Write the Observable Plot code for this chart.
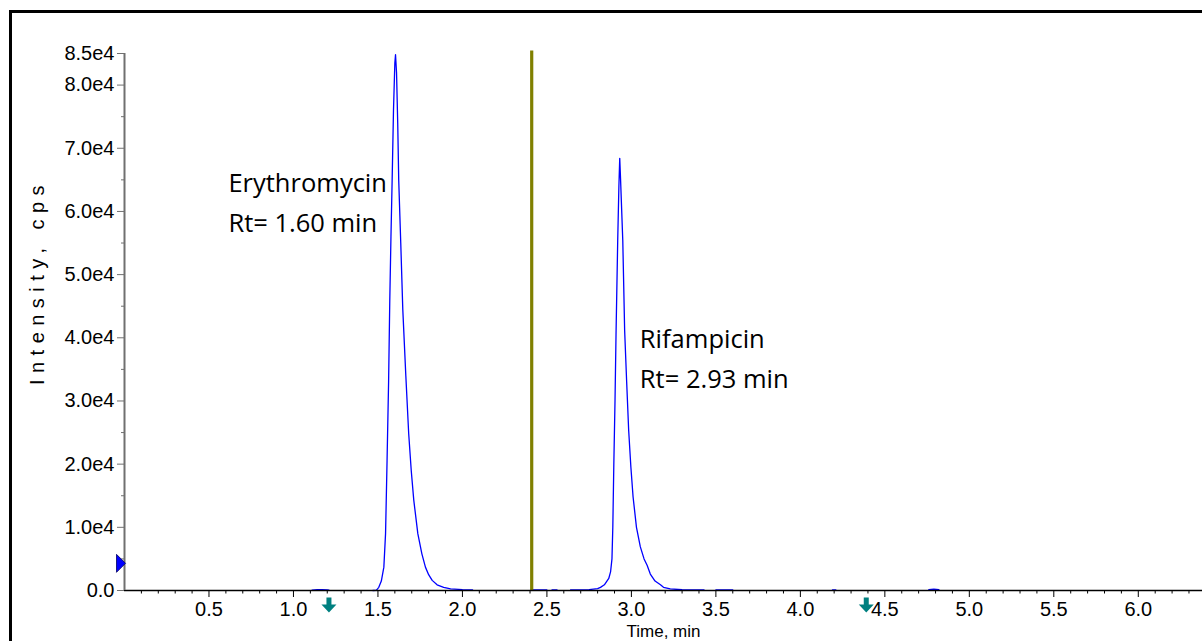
<!DOCTYPE html>
<html><head><meta charset="utf-8">
<script src="https://cdn.jsdelivr.net/npm/d3@7"></script>
<script src="https://cdn.jsdelivr.net/npm/@observablehq/plot@0.6"></script>
<style>
html,body{margin:0;padding:0;background:#fff;}
#wrap{position:relative;width:1202px;height:641px;overflow:hidden;background:#fff;}
#border{position:absolute;left:9px;top:10px;right:-5px;bottom:-5px;border-top:3px solid #000;border-left:3px solid #000;pointer-events:none;}
</style></head><body>
<div id="wrap"><div id="chart"></div><div id="border"></div></div>
<script>
// XIC trace (time in min, intensity in cps); null = no visible trace
const times = [
  1.11, 1.14, 1.17, 1.20, 1.21,
  null,
  1.47, 1.49, 1.505, 1.52, 1.535, 1.545, 1.554, 1.563, 1.570, 1.577, 1.584, 1.592, 1.600, 1.604,
  1.610, 1.617, 1.623, 1.635, 1.647, 1.665, 1.682, 1.697, 1.712, 1.736, 1.760, 1.781, 1.800,
  1.821, 1.850, 1.889, 1.93, 2.00, 2.06,
  null,
  2.41, 2.45, 2.50,
  null,
  2.53, 2.56,
  null,
  2.64, 2.70, 2.75, 2.80, 2.817, 2.84, 2.866, 2.877, 2.885, 2.890, 2.896, 2.903, 2.909, 2.919,
  2.926, 2.931, 2.936, 2.949, 2.960, 2.972, 2.984, 2.997, 3.010, 3.030, 3.053, 3.075, 3.093,
  3.112, 3.140, 3.172, 3.190, 3.230, 3.300, 3.360, 3.430,
  null,
  3.50, 3.55, 3.60,
  null,
  4.19, 4.21,
  null,
  4.76, 4.79, 4.82
];
const intensities = [
  60, 120, 140, 110, 60,
  null,
  0, 30, 500, 1500, 3700, 9000, 20600, 33000, 45900, 56000, 64900, 76000, 83500, 84800,
  82000, 74000, 64900, 55000, 44500, 34000, 24800, 19000, 14300, 9000, 5800, 3700, 2500,
  1600, 900, 500, 250, 150, 100,
  null,
  80, 80, 80,
  null,
  80, 80,
  null,
  80, 100, 150, 300, 500, 900, 1900, 3000, 5000, 10000, 20000, 30000, 40500, 55400,
  64000, 68400, 65000, 55400, 41200, 33000, 25300, 19500, 14800, 10000, 6900, 5000, 4000,
  2600, 1500, 900, 500, 250, 120, 100, 80,
  null,
  80, 80, 80,
  null,
  100, 100,
  null,
  150, 200, 150
];

// Annotations
const labelTexts = ["Erythromycin", "Rt= 1.60 min", "Rifampicin", "Rt= 2.93 min"];
const labelTimes = [0.615, 0.615, 3.05, 3.05];
const labelIntensities = [63000, 56700, 38400, 32100];

// Markers
const thresholdTimes = [2.41];
const rtArrowTimes = [1.21, 4.39];
const levelMarkIntensities = [4300];

// Axes
const yTicks = [0, 10000, 20000, 30000, 40000, 50000, 60000, 70000, 80000, 85000];
const yTickLabels = ["0.0", "1.0e4", "2.0e4", "3.0e4", "4.0e4", "5.0e4", "6.0e4", "7.0e4", "8.0e4", "8.5e4"];
const yMinorTicks = [5000, 15000, 25000, 35000, 45000, 55000, 65000, 75000];
const xTicks = [0.5, 1.0, 1.5, 2.0, 2.5, 3.0, 3.5, 4.0, 4.5, 5.0, 5.5, 6.0];
const xTickLabels = ["0.5", "1.0", "1.5", "2.0", "2.5", "3.0", "3.5", "4.0", "4.5", "5.0", "5.5", "6.0"];
const xMinorTicks = d3.range(1, 64).map(i => i / 10).filter(v => Math.abs(v * 2 - Math.round(v * 2)) > 1e-6);
const xDomain = [0, 6.38];
const yDomain = [0, 85000];
const xTitle = "Time, min";
const yTitle = "Intensity, cps";

const trace = times.map((t, i) => ({t: t == null ? NaN : t, v: intensities[i] == null ? NaN : intensities[i]}));
const labels = labelTexts.map((s, i) => ({s, t: labelTimes[i], v: labelIntensities[i]}));

const triangleRight = {
  draw(ctx) { ctx.moveTo(-8, -9); ctx.lineTo(1, 0); ctx.lineTo(-8, 9); ctx.closePath(); }
};
const arrowDown = {
  draw(ctx) {
    ctx.moveTo(-2.5, 7); ctx.lineTo(2.5, 7); ctx.lineTo(2.5, 14); ctx.lineTo(7.5, 14);
    ctx.lineTo(0, 22); ctx.lineTo(-7.5, 14); ctx.lineTo(-2.5, 14); ctx.closePath();
  }
};

const plot = Plot.plot({
  width: 1202,
  height: 641,
  marginLeft: 124,
  marginRight: 0,
  marginTop: 53,
  marginBottom: 51,
  style: {fontFamily: "'Liberation Sans', Arial, sans-serif", fontSize: "20px", background: "white", color: "black", overflow: "visible"},
  x: {domain: xDomain, axis: null, label: null},
  y: {domain: yDomain, axis: null, label: null},
  marks: [
    Plot.line(trace, {x: "t", y: "v", stroke: "#0000ff", strokeWidth: 1.3, curve: "linear"}),
    Plot.ruleX(thresholdTimes, {y1: 0, y2: 85400, stroke: "#808000", strokeWidth: 3.2}),
    Plot.ruleY([0], {x1: 0, x2: xDomain[1], stroke: "black", strokeWidth: 1.5}),
    Plot.ruleX([0], {y1: 0, y2: 85000, stroke: "#707070", strokeWidth: 2}),
    Plot.axisY(yTicks, {tickSize: 7, tickPadding: 3, stroke: "#707070", fill: "black", fontSize: 20,
      tickFormat: (d, i) => yTickLabels[yTicks.indexOf(d)], label: null}),
    Plot.axisY(yMinorTicks, {tickSize: 3, stroke: "#707070", tickFormat: () => "", label: null}),
    Plot.axisX(xTicks, {tickSize: 7, tickPadding: 4, stroke: "black", fill: "black", fontSize: 20,
      tickFormat: d => xTickLabels[xTicks.indexOf(d)], label: null}),
    Plot.axisX(xMinorTicks, {tickSize: 3.5, stroke: "black", tickFormat: () => "", label: null}),
    Plot.text(labels, {x: "t", y: "v", text: "s", textAnchor: "start", lineAnchor: "bottom",
      fontFamily: "'Open Sans', sans-serif", fontSize: 25.5, fill: "black"}),
    Plot.dot(levelMarkIntensities, {x: () => 0, y: d => d, symbol: triangleRight, fill: "#0000ff", stroke: "#000060", strokeWidth: 0.8}),
    Plot.dot(rtArrowTimes, {x: d => d, y: () => 0, symbol: arrowDown, fill: "#008080", stroke: "none"}),
    Plot.text([yTitle], {frameAnchor: "left", rotate: -90, dx: -87, dy: -40, fontSize: 20, fill: "black", textAnchor: "middle"}),
    Plot.text([xTitle], {frameAnchor: "bottom", dy: 46, lineAnchor: "bottom", fontSize: 17, fill: "black", textAnchor: "middle"})
  ]
});

plot.querySelectorAll("text").forEach(el => {
  if (el.textContent === yTitle) el.setAttribute("letter-spacing", "6.5px");
});
document.getElementById("chart").appendChild(plot);
</script>
</body></html>
